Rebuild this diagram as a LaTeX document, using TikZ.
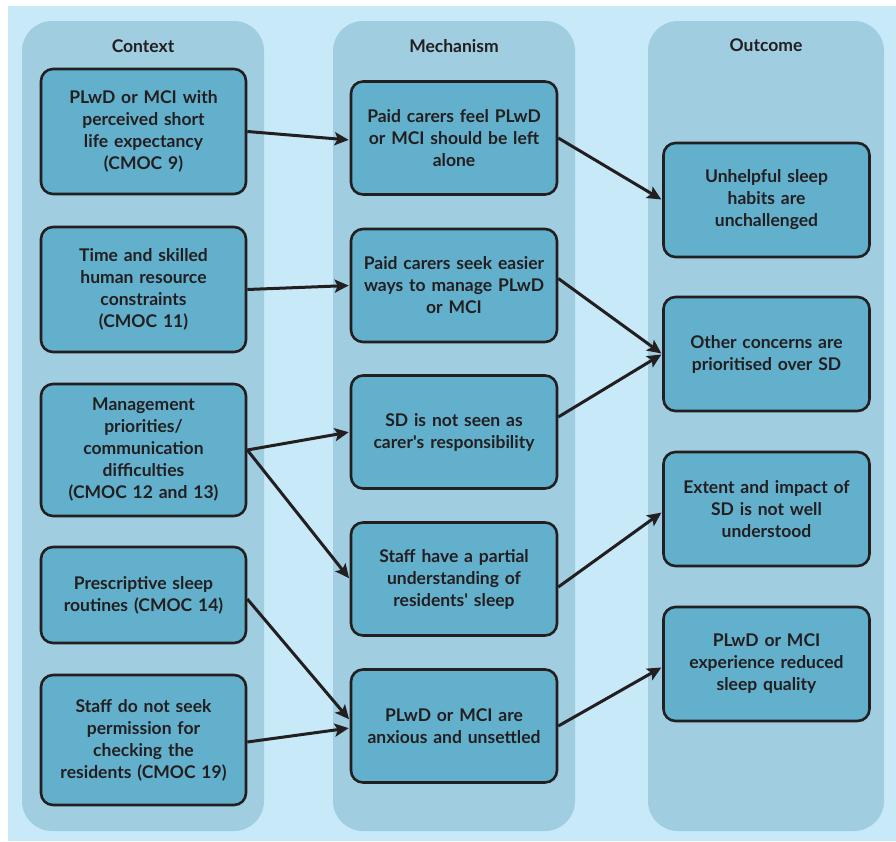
\documentclass[tikz,border=0pt]{standalone}
\usepackage{fontspec}
\setmainfont{Lato}
\usetikzlibrary{arrows.meta}
\definecolor{bgblue}{HTML}{C8E9F8}
\definecolor{colblue}{HTML}{A0CDE0}
\definecolor{boxblue}{HTML}{63B0CD}
\definecolor{inkdark}{HTML}{231F20}
\tikzset{
  column/.style={fill=colblue, draw=none, rounded corners=30pt},
  header/.style={font=\fontsize{17.5}{20}\selectfont\bfseries, text=inkdark},
  cmbox/.style={draw=inkdark, line width=2.6pt, fill=boxblue, rounded corners=12pt,
    text=inkdark, align=center, font=\fontsize{17.5}{22}\selectfont\bfseries,
    inner sep=2pt},
  ctx/.style={cmbox, minimum width=205pt, text width=196pt},
  mech/.style={cmbox, minimum width=206pt, minimum height=113pt, text width=196pt},
  outc/.style={cmbox, minimum width=206pt, minimum height=114pt, text width=196pt},
  link/.style={draw=inkdark, line width=3pt,
    -{Stealth[length=14pt,width=13pt,inset=3pt]}, shorten >=1pt},
}
\begin{document}
\begin{tikzpicture}[x=1pt,y=-1pt]
\useasboundingbox (0,0) rectangle (896,841);
\fill[white] (0,0) rectangle (896,841);
\fill[bgblue] (8,6) rectangle (896,841);
% columns
\fill[column] (22,21) rectangle (264,831);
\fill[column] (333,21) rectangle (575,831);
\fill[column] (648,21) rectangle (884,831);
% headers
\node[header] (hctx) at (143,46) {Context};
\node[header] (hmech) at (454,46) {Mechanism};
\node[header] (hout) at (766,45) {Outcome};
% context boxes
\node[ctx, minimum height=125pt] (c1) at (143.5,131.5) {PLwD or MCI with\\perceived short\\life expectancy\\(CMOC 9)};
\node[ctx, minimum height=125pt] (c2) at (143.5,289.5) {Time and skilled\\human resource\\constraints\\(CMOC 11)};
\node[ctx, minimum height=132pt] (c3) at (143.5,450) {Management\\priorities/\\communication\\difficulties\\(CMOC 12 and 13)};
\node[ctx, minimum height=96pt] (c4) at (143.5,595) {Prescriptive sleep\\routines (CMOC 14)};
\node[ctx, minimum height=130pt] (c5) at (143.5,740) {Staff do not seek\\permission for\\checking the\\residents (CMOC 19)};
% mechanism boxes
\node[mech] (m1) at (454,138) {Paid carers feel PLwD\\or MCI should be left\\alone};
\node[mech] (m2) at (454,285.5) {Paid carers seek easier\\ways to manage PLwD\\or MCI};
\node[mech] (m3) at (454,432) {SD is not seen as\\carer\textquotesingle s responsibility};
\node[mech] (m4) at (454,579) {Staff have a partial\\understanding of\\residents\textquotesingle\ sleep};
\node[mech] (m5) at (454,726) {PLwD or MCI are\\anxious and unsettled};
% outcome boxes
\node[outc] (o1) at (766.5,200) {Unhelpful sleep\\habits are\\unchallenged};
\node[outc] (o2) at (766.5,354) {Other concerns are\\prioritised over SD};
\node[outc] (o3) at (766.5,509) {Extent and impact of\\SD is not well\\understood};
\node[outc] (o4) at (766.5,664) {PLwD or MCI\\experience reduced\\sleep quality};
% links context -> mechanism
\draw[link] (c1.east) -- ([yshift=-2pt]m1.west);
\draw[link] (c2.east) -- (m2.west);
\draw[link] (c3.east) -- (m3.west);
\draw[link] (c3.east) -- (m4.west);
\draw[link] ([yshift=-4pt]c4.east) -- ([yshift=6pt]m5.west);
\draw[link] ([yshift=-2pt]c5.east) -- ([yshift=-2pt]m5.west);
% links mechanism -> outcome
\draw[link] (m1.east) -- (o1.west);
\draw[link] ([yshift=7pt]m2.east) -- (o2.west);
\draw[link] ([yshift=15pt]m3.east) -- (o2.west);
\draw[link] ([yshift=-8pt]m4.east) -- ([yshift=-3pt]o3.west);
\draw[link] (m5.east) -- ([yshift=-3pt]o4.west);
\end{tikzpicture}
\end{document}
